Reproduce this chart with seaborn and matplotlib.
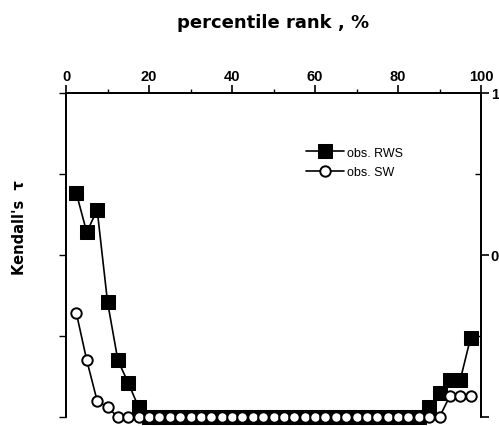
import numpy as np
import pandas as pd
import matplotlib
matplotlib.use("Agg")
import matplotlib.pyplot as plt
import seaborn as sns
from matplotlib.ticker import MultipleLocator, FixedLocator

# percentile rank, %
rank = [2.5 * i for i in range(1, 40)]

# Kendall's tau, observed RWS
tau_rws = [0.38, 0.14, 0.28, -0.29, -0.65, -0.79, -0.94] + [-1.0] * 27 + \
          [-0.94, -0.85, -0.77, -0.77, -0.51]
# Kendall's tau, observed SW
tau_sw = [-0.36, -0.65, -0.90, -0.94] + [-1.0] * 32 + [-0.87, -0.87, -0.87]

xticks = [0, 20, 40, 60, 80, 100]
right_ticks = [1, 0, -1]
right_labels = ["1", "0", ""]

sns.set_style("ticks")
plt.rcParams["font.family"] = ["Liberation Sans", "DejaVu Sans"]
plt.rcParams.update({"text.color": "black", "axes.labelcolor": "black",
                     "xtick.color": "black", "ytick.color": "black",
                     "axes.edgecolor": "black"})

df = pd.DataFrame({"rank": rank, "RWS": tau_rws, "SW": tau_sw})

fig = plt.figure(figsize=(4.99, 4.27), dpi=100)
ax = fig.add_axes([0.1323, 0.0211, 0.8317, 0.7588])

sns.lineplot(data=df, x="rank", y="RWS", ax=ax, color="black", lw=1.2,
             marker="s", markersize=10.5, markerfacecolor="black",
             markeredgecolor="black", label="obs. RWS", clip_on=False, zorder=3)
sns.lineplot(data=df, x="rank", y="SW", ax=ax, color="black", lw=1.2,
             marker="o", markersize=7.5, markerfacecolor="white",
             markeredgecolor="black", markeredgewidth=1.4,
             label="obs. SW", clip_on=False, zorder=4)

ax.set_xlim(0, 100)
ax.set_ylim(-1, 1)

# x axis on top
ax.xaxis.set_ticks_position("top")
ax.xaxis.set_label_position("top")
ax.set_xticks(xticks)
ax.xaxis.set_minor_locator(MultipleLocator(10))
ax.tick_params(axis="x", which="major", direction="out", length=6, width=1.2,
               labelsize=10.5, pad=1)
ax.tick_params(axis="x", which="minor", direction="out", length=3, width=1.0)
for lab in ax.get_xticklabels():
    lab.set_fontweight("bold")
ax.set_xlabel("percentile rank , %", fontsize=13, fontweight="bold",
              family=["DejaVu Sans"])
ax.xaxis.set_label_coords(0.5, 1.205)

# left axis: bare ticks
ax.set_yticks([1, 0.5, 0, -0.5, -1])
ax.set_yticklabels([])
ax.tick_params(axis="y", which="major", direction="out", length=5, width=1.0,
               left=True, right=False)
ax.set_ylabel("Kendall's  \u03c4", fontsize=10.5, fontweight="bold",
              family=["DejaVu Sans"])
ax.yaxis.set_label_coords(-0.093, 0.586)

# right axis with 1 / 0 / -1
ax2 = ax.twinx()
ax2.set_ylim(-1, 1)
ax2.set_yticks(right_ticks)
ax2.set_yticklabels(right_labels)
ax2.yaxis.set_minor_locator(FixedLocator([0.5, -0.5]))
ax2.tick_params(axis="y", which="major", direction="out", length=6, width=1.2,
                labelsize=10.5, pad=1)
ax2.tick_params(axis="y", which="minor", direction="in", length=4, width=1.0)
for lab in ax2.get_yticklabels():
    lab.set_fontweight("bold")

for a in (ax, ax2):
    a.spines["bottom"].set_visible(False)
    for s in ("top", "left", "right"):
        a.spines[s].set_linewidth(1.3)
        a.spines[s].set_visible(True)
        a.spines[s].set_color("black")
ax.tick_params(axis="x", bottom=False, top=True)

leg = ax.legend(loc="upper left", bbox_to_anchor=(0.565, 0.85), frameon=False,
                handlelength=3.1, handletextpad=0.2, labelspacing=0.6,
                fontsize=9, borderaxespad=0)

fig.savefig("out.png", dpi=100)
